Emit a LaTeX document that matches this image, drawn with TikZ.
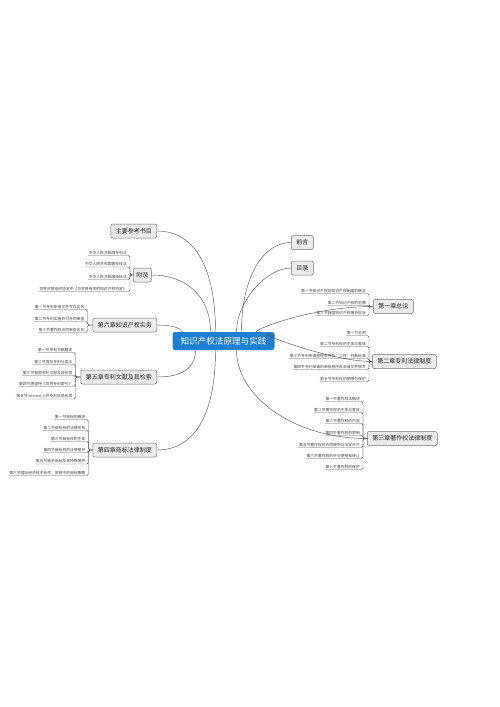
\documentclass[tikz,border=0pt]{standalone}
\usepackage{fontspec}
\setmainfont{Noto Sans CJK SC}
\begin{document}
\begin{tikzpicture}[x=1pt,y=-1pt,
  conn/.style={draw=black!65,line width=0.45pt},
  mainbox/.style={draw=black!55,fill=black!8,rounded corners=2pt,line width=0.5pt,
     font=\fontsize{6}{7}\selectfont,text=black!85,inner xsep=5pt,inner ysep=0pt,minimum height=14pt},
  rootbox/.style={fill={rgb,255:red,27;green,128;blue,212},rounded corners=2.5pt,text=white,
     font=\fontsize{8.6}{10}\selectfont,inner xsep=8pt,inner ysep=0pt,minimum height=18pt},
  leaf/.style={font=\fontsize{3.8}{4.5}\selectfont,text=black!75,inner xsep=0.5pt,inner ysep=0.8pt,anchor=south east}]
\useasboundingbox (0,0) rectangle (500,707);
\fill[white] (0,0) rectangle (500,707);

% root
\node[rootbox] (c) at (223.5,341) {知识产权法原理与实践};

% main branches
\node[mainbox,anchor=east] (ref) at (157,231) {主要参考书目};
\node[mainbox,anchor=west,inner xsep=3pt] (app) at (133,275) {附录};
\node[mainbox,anchor=east] (ch6) at (157,325) {第六章知识产权实务};
\node[mainbox,anchor=east] (ch5) at (157,377) {第五章专利文献及其检索};
\node[mainbox,anchor=east] (ch4) at (157,450) {第四章商标法律制度};
\node[mainbox,anchor=west] (pre) at (291,242.5) {前言};
\node[mainbox,anchor=west] (toc) at (291,268) {目录};
\node[mainbox,anchor=west] (ch1) at (373,306.5) {第一章总论};
\node[mainbox,anchor=west] (ch2) at (372,361.5) {第二章专利法律制度};
\node[mainbox,anchor=west] (ch3) at (367,438.5) {第三章著作权法律制度};

% root connectors
\draw[conn] (ref.east) .. controls +(40,0) and +(0,-60) .. ([xshift=-8pt]c.north);
\draw[conn] (app.east) .. controls +(35,0) and +(0,-35) .. ([xshift=-13pt]c.north);
\draw[conn] (ch6.east) .. controls +(14,0) and +(0,-4) .. ([xshift=-42pt]c.north);
\draw[conn] (pre.west) .. controls +(-28,0) and +(0,-55) .. ([xshift=18pt]c.north);
\draw[conn] (toc.west) .. controls +(-25,0) and +(0,-30) .. ([xshift=13pt]c.north);
\draw[conn] (ch1.west) .. controls +(-70,0) and +(-25,5) .. ([xshift=38pt]c.north);
\draw[conn] (ch2.west) .. controls +(-45,0) and +(-35,-10) .. ([yshift=5pt]c.east);
\draw[conn] (ch3.west) .. controls +(-75,0) and +(0,45) .. ([xshift=13pt]c.south);
\draw[conn] (ch5.east) .. controls +(25,0) and +(0,18) .. ([xshift=-28pt]c.south);
\draw[conn] (ch4.east) .. controls +(40,0) and +(0,60) .. ([xshift=-8pt]c.south);

% leaf groups
\coordinate (japp) at (130,275);
\foreach \y/\t [count=\i] in {255.5/中华人民共和国专利法,267/中华人民共和国著作权法,279.5/中华人民共和国商标法,291.5/世界贸易组织协定中《与贸易有关的知识产权协定》}{
  \node[leaf] (app\i) at (127.5,\y) {\t};
  \draw[conn,rounded corners=1.5pt] (app\i.south west) -- (app\i.south -| japp) -- (japp) -- (app.west);
}
\coordinate (j6) at (87.5,325);
\foreach \y/\t [count=\i] in {309.5/第一节专利申请文件写作实务,321.5/第二节专利实施许可合同审查,332.5/第三节著作权合同审查实务}{
  \node[leaf] (s6\i) at (85,\y) {\t};
  \draw[conn,rounded corners=1.5pt] (s6\i.south west) -- (s6\i.south -| j6) -- (j6) -- (ch6.west);
}
\coordinate (j5) at (75.5,377);
\foreach \y/\t [count=\i] in {352.5/第一节专利文献概述,364.5/第二节国际专利分类法,375.5/第三节我国专利文献及其检索,386.5/第四节德温特《世界专利索引》,399/第五节Internet上的专利信息检索}{
  \node[leaf] (s5\i) at (73,\y) {\t};
  \draw[conn,rounded corners=1.5pt] (s5\i.south west) -- (s5\i.south -| j5) -- (j5) -- (ch5.west);
}
\coordinate (j4) at (88.5,450);
\foreach \y/\t [count=\i] in {419.5/第一节商标的概述,430.5/第二节商标权的法律关系,441.5/第三节商标权的主体,452.5/第四节商标权的法律保护,464/第五节驰名商标及其特殊保护,475.5/第六节国际经济技术合作、贸易中的商标策略}{
  \node[leaf] (s4\i) at (86,\y) {\t};
  \draw[conn,rounded corners=1.5pt] (s4\i.south west) -- (s4\i.south -| j4) -- (j4) -- (ch4.west);
}
\coordinate (j1) at (369,306.5);
\foreach \y/\t [count=\i] in {293.5/第一节知识产权及知识产权制度的概念,305.5/第二节知识产权的范围,315.5/第三节我国知识产权保护现状}{
  \node[leaf] (s1\i) at (366.5,\y) {\t};
  \draw[conn,rounded corners=1.5pt] (s1\i.south west) -- (s1\i.south -| j1) -- (j1) -- (ch1.west);
}
\coordinate (j2) at (369,361.5);
\foreach \y/\t [count=\i] in {335.5/第一节总则,346.5/第二节专利权的主体与客体,358.5/第三节专利申请授权条件及“三性”判断标准,369.5/第四节专利申请的审批程序及申请文件撰写,381.5/第五节专利权的期限与保护}{
  \node[leaf] (s2\i) at (366.5,\y) {\t};
  \draw[conn,rounded corners=1.5pt] (s2\i.south west) -- (s2\i.south -| j2) -- (j2) -- (ch2.west);
}
\coordinate (j3) at (363,438.5);
\foreach \y/\t [count=\i] in {401.5/第一节著作权法概述,412.5/第二节著作权的主体与客体,423.5/第三节著作权的内容,435.5/第四节著作权的限制,447.5/第五节著作权的合同使用与法定许可,458.5/第六节著作权的许可使用和转让,469.5/第七节著作权的保护}{
  \node[leaf] (s3\i) at (360.5,\y) {\t};
  \draw[conn,rounded corners=1.5pt] (s3\i.south west) -- (s3\i.south -| j3) -- (j3) -- (ch3.west);
}
\end{tikzpicture}
\end{document}
